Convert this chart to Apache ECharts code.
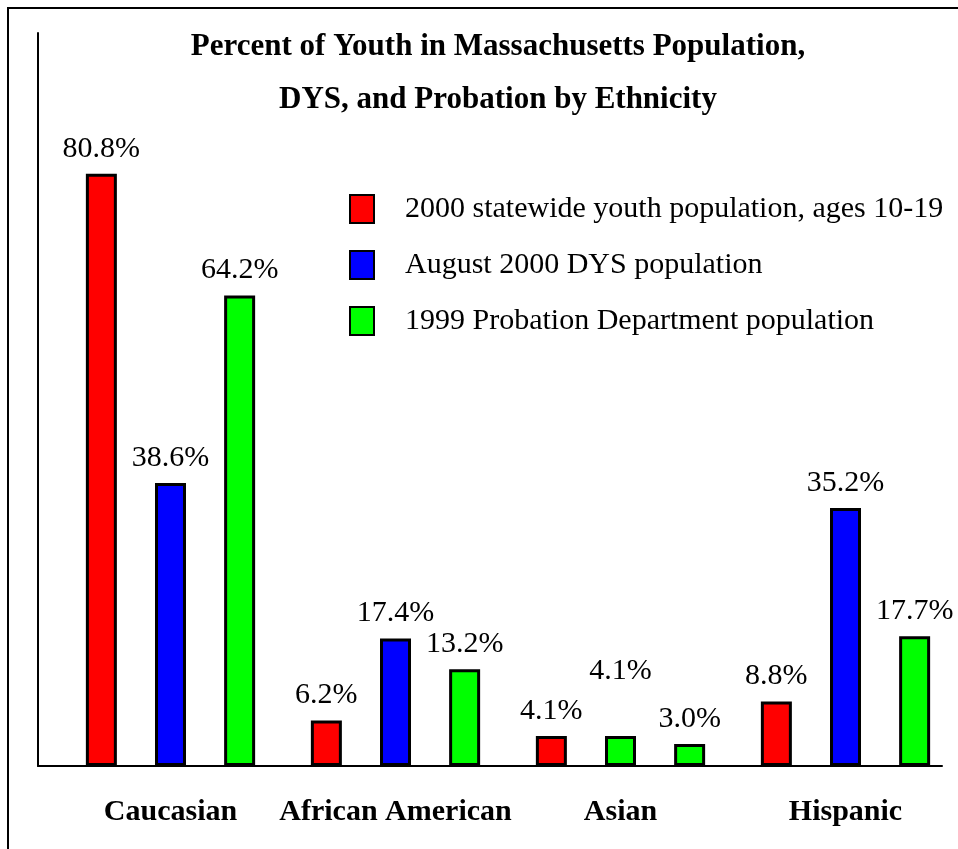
<!DOCTYPE html>
<html>
<head>
<meta charset="utf-8">
<script src="https://cdn.jsdelivr.net/npm/echarts@6/dist/echarts.min.js"></script>
<style>
  html, body { margin: 0; padding: 0; background: #ffffff; }
  #wrap { position: relative; width: 958px; height: 849px; }
  #chart { position: absolute; left: 0; top: 0; width: 958px; height: 849px; }
  #frame { position: absolute; left: 7px; top: 7px; right: 0; bottom: 0;
           border-left: 2px solid #000; border-top: 2px solid #000; pointer-events: none; }
</style>
</head>
<body>
<div id="wrap">
  <div id="chart"></div>
  <div id="frame"></div>
</div>
<script>
const titleLines = ['Percent of Youth in Massachusetts Population,', 'DYS, and Probation by Ethnicity'];
const categories = ['Caucasian', 'African American', 'Asian', 'Hispanic'];
const seriesNames = ['2000 statewide youth population, ages 10-19', 'August 2000 DYS population', '1999 Probation Department population'];
const statewideYouth = [80.8, 6.2, 4.1, 8.8];
const dysPopulation = [38.6, 17.4, 4.1, 35.2];
const probationPopulation = [64.2, 13.2, 3.0, 17.7];
const seriesColors = ['#ff0000', '#0000ff', '#00ff00'];

const FONT = "'Liberation Serif', 'Times New Roman', serif";
const allValues = [statewideYouth, dysPopulation, probationPopulation];

function buildData(values, seriesIndex) {
  return values.map(function (v, i) {
    // In the original, the Asian DYS bar is drawn in green with its label raised
    if (seriesIndex === 1 && categories[i] === 'Asian') {
      return { value: v, itemStyle: { color: '#00ff00' }, label: { distance: 50 } };
    }
    return v;
  });
}

const chart = echarts.init(document.getElementById('chart'), null, { renderer: 'canvas' });
chart.setOption({
  backgroundColor: '#ffffff',
  animation: false,
  title: {
    text: titleLines.join('\n'),
    left: 493,
    textAlign: 'center',
    top: 15,
    textStyle: { fontFamily: FONT, fontWeight: 'bold', fontSize: 31, lineHeight: 53, color: '#000' }
  },
  legend: {
    orient: 'vertical',
    left: 344,
    top: 189,
    itemWidth: 24,
    itemHeight: 28,
    itemGap: 26,
    icon: 'rect',
    textStyle: { fontFamily: FONT, fontSize: 30, color: '#000', padding: [0, 0, 0, 26] },
    data: seriesNames
  },
  grid: [
    { left: 58, right: 0, top: 33, bottom: 83 },
    { left: 38, right: 16, top: 33, bottom: 83 }
  ],
  xAxis: [
    {
      type: 'category',
      gridIndex: 0,
      data: categories,
      axisLine: { show: false },
      axisTick: { show: false },
      axisLabel: { interval: 0, fontFamily: FONT, fontWeight: 'bold', fontSize: 30, color: '#000', margin: 31 }
    },
    {
      type: 'value',
      gridIndex: 1,
      min: 0,
      max: 1,
      axisLine: { show: true, lineStyle: { color: '#000', width: 2 } },
      axisTick: { show: false },
      axisLabel: { show: false },
      splitLine: { show: false }
    }
  ],
  yAxis: [
    {
      type: 'value',
      gridIndex: 0,
      min: 0,
      max: 100,
      axisLine: { show: false },
      axisTick: { show: false },
      axisLabel: { show: false },
      splitLine: { show: false }
    },
    {
      type: 'value',
      gridIndex: 1,
      min: 0,
      max: 1,
      axisLine: { show: true, onZero: false, lineStyle: { color: '#000', width: 2 } },
      axisTick: { show: false },
      axisLabel: { show: false },
      splitLine: { show: false }
    }
  ],
  series: seriesNames.map(function (name, k) {
    return {
      name: name,
      type: 'bar',
      xAxisIndex: 0,
      yAxisIndex: 0,
      barWidth: 31,
      barGap: '123%',
      data: buildData(allValues[k], k),
      itemStyle: { color: seriesColors[k], borderColor: '#000', borderWidth: 3 },
      label: {
        show: true,
        position: 'top',
        distance: 10,
        fontFamily: FONT,
        fontSize: 30,
        color: '#000',
        formatter: function (p) { return Number(p.value).toFixed(1) + '%'; }
      }
    };
  })
});
</script>
</body>
</html>
